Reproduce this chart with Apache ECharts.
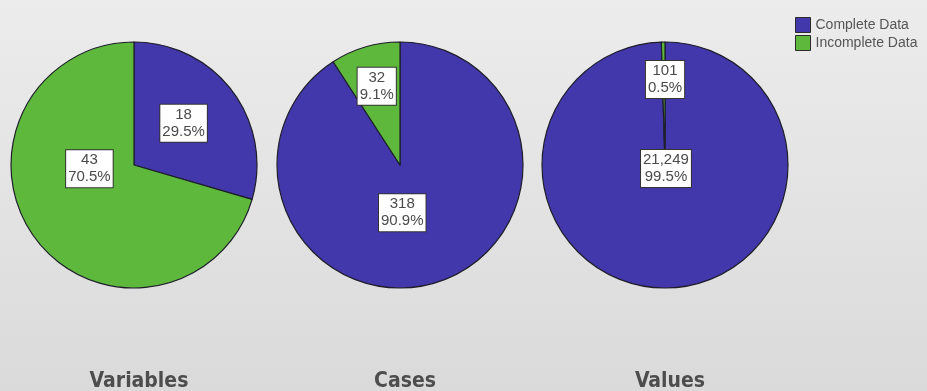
<!DOCTYPE html>
<html>
<head>
<meta charset="utf-8">
<script src="https://cdn.jsdelivr.net/npm/echarts@6/dist/echarts.min.js"></script>
<style>
  html, body { margin: 0; padding: 0; }
  #chart { width: 927px; height: 391px; }
</style>
</head>
<body>
<div id="chart"></div>
<script>
// Missing-value summary: counts of complete vs incomplete records
const categories = ['Complete Data', 'Incomplete Data'];
const panels = ['Variables', 'Cases', 'Values'];
const variablesCounts = [18, 43];
const casesCounts = [318, 32];
const valuesCounts = [21249, 101];

const seriesCounts = [variablesCounts, casesCounts, valuesCounts];
const colors = ['#4338ab', '#5db83c'];

// pie centres (x) shared by each pie and its caption
const centersX = [134, 400, 665];
const centerY = 165;
const radius = 123;

// small nudges so each value box sits clear of the slice edges
const labelNudge = {
  Variables: [[-2, -3], [7, -35]],
  Cases: [[-16, -14], [-5, -17]],
  Values: [[0, -61], [1, -21]]
};

function fmtCount(v) {
  return v.toLocaleString('en-US');
}

const series = panels.map((name, i) => {
  const vals = seriesCounts[i];
  const total = vals.reduce((a, b) => a + b, 0);
  return {
    type: 'pie',
    name: name,
    center: [centersX[i], centerY],
    radius: radius,
    startAngle: 90,
    clockwise: true,
    silent: true,
    animation: false,
    avoidLabelOverlap: false,
    data: categories.map((c, k) => ({ name: c, value: vals[k] })),
    itemStyle: { borderColor: '#1e1e2a', borderWidth: 1.2 },
    label: {
      show: true,
      position: 'inside',
      formatter: p => fmtCount(p.value) + '\n' + (p.value / total * 100).toFixed(1) + '%',
      fontFamily: 'Arial, "Liberation Sans", sans-serif',
      fontSize: 15,
      lineHeight: 17,
      color: '#4a4a4a',
      backgroundColor: '#ffffff',
      borderColor: '#333333',
      borderWidth: 1,
      padding: [2, 2, 1, 2]
    },
    labelLine: { show: false },
    labelLayout: p => {
      const n = labelNudge[name][p.dataIndex];
      return { dx: n[0], dy: n[1] };
    },
    emphasis: { disabled: true }
  };
});

const chart = echarts.init(document.getElementById('chart'), null, { renderer: 'canvas' });
chart.setOption({
  backgroundColor: {
    type: 'linear', x: 0, y: 0, x2: 0, y2: 1,
    colorStops: [
      { offset: 0, color: '#ececec' },
      { offset: 1, color: '#dadada' }
    ]
  },
  color: colors,
  title: panels.map((t, i) => ({
    text: t,
    left: centersX[i],
    top: 366,
    textAlign: 'center',
    textStyle: {
      fontFamily: '"DejaVu Sans Condensed", "DejaVu Sans", sans-serif',
      fontWeight: 'bold',
      fontSize: 21,
      color: '#4d4d4d'
    }
  })),
  legend: {
    orient: 'vertical',
    left: 790,
    top: 12,
    icon: 'rect',
    itemWidth: 15,
    itemHeight: 15,
    itemGap: 2,
    selectedMode: false,
    data: categories,
    itemStyle: { borderColor: '#2a2a2a', borderWidth: 1 },
    textStyle: {
      fontFamily: 'Arial, "Liberation Sans", sans-serif',
      fontSize: 14,
      color: '#555555'
    }
  },
  series: series
});
</script>
</body>
</html>
